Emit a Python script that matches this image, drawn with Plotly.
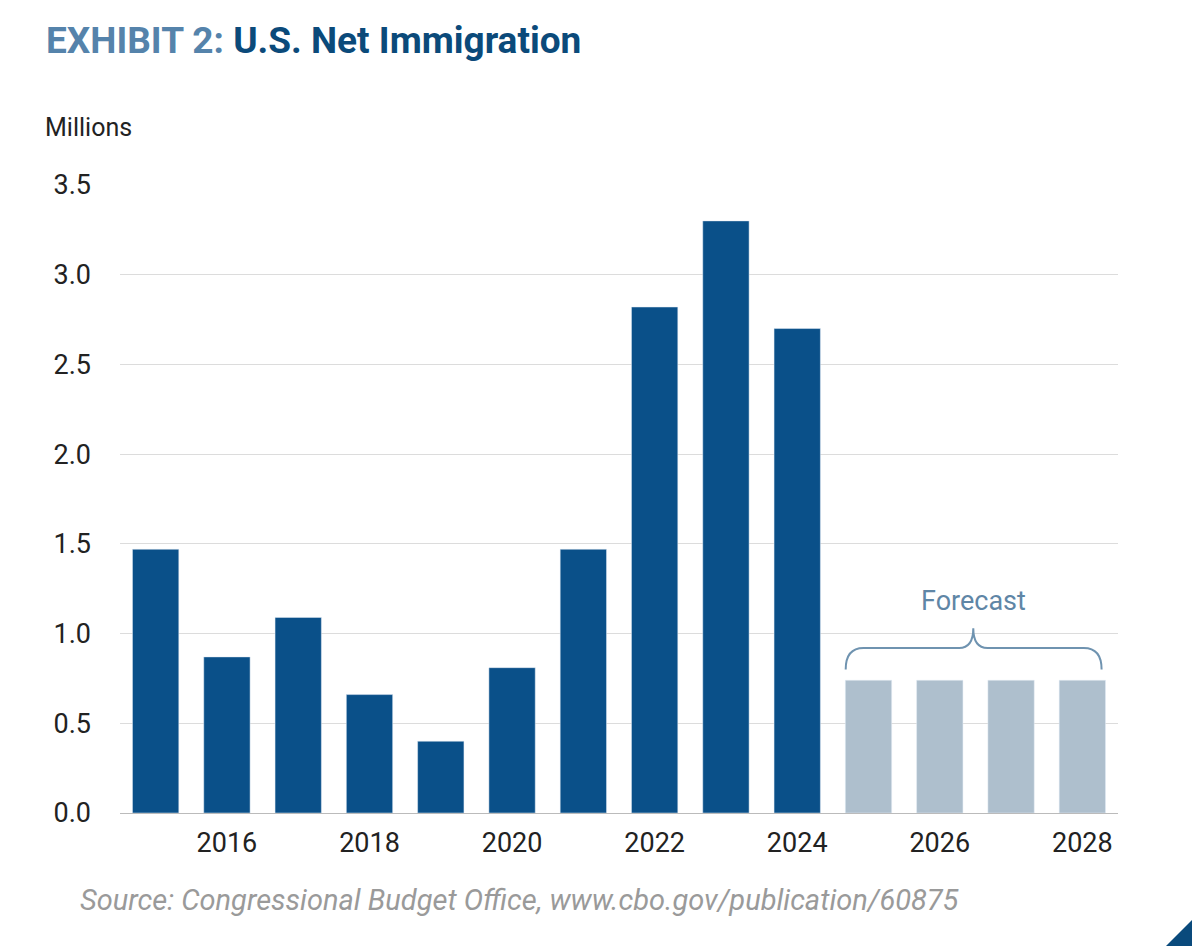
import plotly.graph_objects as go

years_actual = [2015, 2016, 2017, 2018, 2019, 2020, 2021, 2022, 2023, 2024]
immig_actual = [1.47, 0.87, 1.09, 0.66, 0.40, 0.81, 1.47, 2.82, 3.30, 2.70]
years_forecast = [2025, 2026, 2027, 2028]
immig_forecast = [0.74, 0.74, 0.74, 0.74]
tick_years = [2016, 2018, 2020, 2022, 2024, 2026, 2028]

W, H = 1200, 946
OFF = 8  # page body margin
L, R, T, B = 120 - OFF, 82 + OFF, 185 - OFF, 133 + OFF

def px(x):
    return (x - OFF - L) / (W - L - R)

def py(y):
    return (H - B - (y - OFF)) / (H - T - B)

fig = go.Figure()
fig.add_bar(x=years_actual, y=immig_actual, marker_color="#0a5089", width=0.65)
fig.add_bar(x=years_forecast, y=immig_forecast, marker_color="#aebfcd", width=0.65)

# forecast brace
x0, x1, xm = 2024.68, 2028.27, 2026.47
brace = (f"M {x0},0.80 Q {x0},0.92 {x0+0.25},0.92 L {xm-0.2},0.92 "
         f"Q {xm},0.92 {xm},1.03 Q {xm},0.92 {xm+0.2},0.92 L {x1-0.25},0.92 "
         f"Q {x1},0.92 {x1},0.80")
fig.add_shape(type="path", path=brace, xref="x", yref="y",
              line=dict(color="#6f93b0", width=2))
fig.add_annotation(x=xm, y=1.08, text="Forecast", showarrow=False, yanchor="bottom",
                   font=dict(size=27, color="#5f86a6"))

# corner triangle
fig.add_shape(type="path", xref="paper", yref="paper",
              path=f"M {px(1158)},{py(954)} L {px(1208)},{py(954)} L {px(1208)},{py(904)} Z",
              fillcolor="#0a4a7c", line_width=0)

fig.add_annotation(xref="paper", yref="paper", x=px(44), y=py(40), xanchor="left", yanchor="middle",
                   showarrow=False,
                   text="<span style='color:#5583ab'><b>EXHIBIT 2: </b></span><b>U.S. Net Immigration</b>",
                   font=dict(family="Roboto", size=37, color="#0b4a7a"))
fig.add_annotation(xref="paper", yref="paper", x=px(43), y=py(128), xanchor="left", yanchor="middle",
                   showarrow=False, text="Millions",
                   font=dict(family="Roboto", size=25, color="#222"))
fig.add_annotation(xref="paper", yref="paper", x=px(78), y=py(900), xanchor="left", yanchor="middle",
                   showarrow=False,
                   text="<i>Source: Congressional Budget Office, www.cbo.gov/publication/60875</i>",
                   font=dict(family="Roboto", size=29, color="#9a9a9a"))

fig.update_layout(
    width=W, height=H, margin=dict(l=L, r=R, t=T, b=B),
    paper_bgcolor="white", plot_bgcolor="white", showlegend=False,
    font=dict(family="Roboto", size=27, color="#222"),
    xaxis=dict(range=[2014.5, 2028.5], tickvals=tick_years, showgrid=False,
               showline=True, linecolor="#bbb", ticks="", ticklabelstandoff=6),
    yaxis=dict(range=[0, 3.5], tickvals=[0, 0.5, 1, 1.5, 2, 2.5, 3, 3.5],
               tickformat=".1f", gridcolor="#dcdcdc", zeroline=False,
               ticklabelstandoff=28),
)
fig.write_html("out.html")
